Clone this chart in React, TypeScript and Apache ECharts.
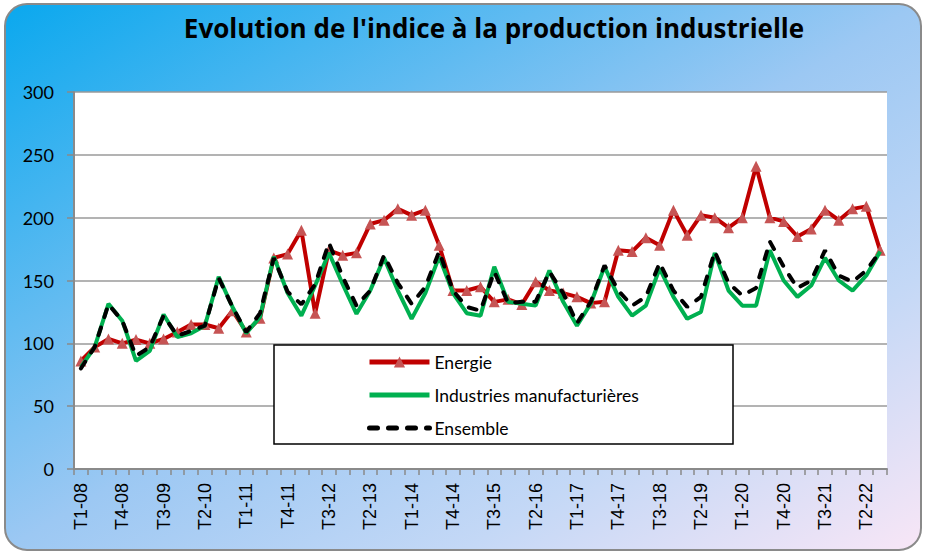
import React, { useEffect, useRef } from "react";
import * as echarts from "echarts";

const categories = [
  "T1-08","T2-08","T3-08","T4-08","T1-09","T2-09","T3-09","T4-09",
  "T1-10","T2-10","T3-10","T4-10","T1-11","T2-11","T3-11","T4-11",
  "T1-12","T2-12","T3-12","T4-12","T1-13","T2-13","T3-13","T4-13",
  "T1-14","T2-14","T3-14","T4-14","T1-15","T2-15","T3-15","T4-15",
  "T1-16","T2-16","T3-16","T4-16","T1-17","T2-17","T3-17","T4-17",
  "T1-18","T2-18","T3-18","T4-18","T1-19","T2-19","T3-19","T4-19",
  "T1-20","T2-20","T3-20","T4-20","T1-21","T2-21","T3-21","T4-21",
  "T1-22","T2-22","T3-22",
];

const energie = [
  86, 97, 103.5, 100, 103, 100, 103.5, 109,
  115, 115, 112, 126, 109, 120, 168, 171,
  190, 124, 174, 170, 172, 195, 198, 207,
  202, 206, 178, 142, 142, 145, 133, 135,
  131, 149, 142, 140, 137, 132, 133, 174,
  173, 184, 178, 206, 186, 202, 200, 192,
  200, 241, 200, 197, 185, 191, 206, 198,
  207, 209, 174,
];

const industries = [
  81, 97, 131.5, 118, 86, 94, 123, 105,
  108, 114, 153, 129, 108, 121, 169, 140,
  122, 146, 172, 147, 123.5, 142, 168, 142,
  119.5, 140, 169, 140, 124, 122, 161, 133,
  131.5, 130, 158, 133, 114, 131.5, 161, 137,
  122, 130, 159.6, 137, 119.5, 125, 172, 142,
  130, 130, 174, 150, 137, 146, 168, 150,
  142, 154, 173,
];

const ensemble = [
  80, 97, 131, 118, 90, 97, 122, 106,
  110, 114, 152, 129, 109, 124, 168, 141,
  131, 147, 180, 153, 130, 142, 170, 148,
  131.5, 145, 173, 142, 129, 126, 157, 132,
  133, 133, 157, 140, 116, 133, 162, 142,
  130, 137, 164, 142, 129, 137, 173, 148,
  138, 144, 181, 161, 144, 150, 174, 154,
  149, 158, 173,
];

const seriesNames = ["Energie", "Industries manufacturières", "Ensemble"];
const titleText = "Evolution de l'indice à la production industrielle";

export default function App() {
  const ref = useRef<HTMLDivElement>(null);

  useEffect(() => {
    document.body.style.margin = "0";
    if (!ref.current) return;
    const chart = echarts.init(ref.current, null, { renderer: "svg" });

    // background box
    const bx = 5, by = 4, bw = 916, bh = 546;
    const diag = Math.sqrt(bw * bw + bh * bh);
    const dx = bh / diag, dy = bw / diag;
    const L = (bw * bh) / diag;
    const cx = bx + bw / 2, cy = by + bh / 2;
    const bg = new echarts.graphic.LinearGradient(
      cx - dx * L, cy - dy * L, cx + dx * L, cy + dy * L,
      [
        { offset: 0, color: "#0AA8EE" },
        { offset: 0.5, color: "#9CC8F3" },
        { offset: 0.75, color: "#C4D8F6" },
        { offset: 1, color: "#F8E6F6" },
      ],
      true
    );

    const dash = [8, 11];

    chart.setOption({
      animation: false,
      backgroundColor: "#fff",
      title: {
        text: titleText,
        left: 489,
        textAlign: "center",
        top: 10,
        textStyle: {
          fontFamily: "Open Sans",
          fontWeight: "bold",
          fontSize: 26,
          color: "#000",
        },
      },
      graphic: [
        {
          type: "rect",
          z: -10,
          silent: true,
          shape: { x: bx, y: by, width: bw, height: bh, r: 22 },
          style: { fill: bg, stroke: "#8A8A8A", lineWidth: 2 },
        },
        {
          type: "rect",
          z: 10,
          silent: true,
          shape: { x: 274, y: 345, width: 459, height: 99 },
          style: { fill: "#fff", stroke: "#000", lineWidth: 1.5 },
        },
      ],
      grid: {
        left: 74,
        right: 39,
        top: 92,
        bottom: 83,
        show: true,
        backgroundColor: "#fff",
        borderWidth: 0,
      },
      legend: {
        orient: "vertical",
        left: 367,
        top: 353,
        padding: 0,
        z: 20,
        itemWidth: 60,
        itemHeight: 14,
        itemGap: 15,
        data: [
          { name: seriesNames[0], lineStyle: { width: 5, color: "#C00000" } },
          {
            name: seriesNames[1],
            itemStyle: { opacity: 0 },
            lineStyle: { width: 5, color: "#00B050" },
          },
          {
            name: seriesNames[2],
            itemStyle: { opacity: 0 },
            lineStyle: { width: 5, color: "#000", type: dash, cap: "round" },
          },
        ],
        textStyle: { fontFamily: "Lato", fontSize: 17.5, color: "#000" },
      },
      xAxis: {
        type: "category",
        data: categories,
        boundaryGap: true,
        axisLine: { show: true, lineStyle: { color: "#8A8A8A", width: 2 } },
        axisTick: {
          show: true,
          interval: 0,
          length: 6,
          lineStyle: { color: "#8A8A8A", width: 1.5 },
        },
        axisLabel: {
          interval: 2,
          rotate: 90,
          margin: 14,
          fontFamily: "Liberation Sans",
          fontSize: 18,
          color: "#000",
        },
        splitLine: { show: false },
      },
      yAxis: {
        type: "value",
        min: 0,
        max: 300,
        interval: 50,
        axisLine: { show: true, lineStyle: { color: "#8A8A8A", width: 2 } },
        axisTick: { show: true, length: 7, lineStyle: { color: "#8A8A8A", width: 1.5 } },
        axisLabel: {
          margin: 20,
          fontFamily: "Lato",
          fontSize: 18,
          color: "#000",
        },
        splitLine: { show: true, lineStyle: { color: "#9A9A9A", width: 1.5 } },
      },
      series: [
        {
          name: seriesNames[0],
          type: "line",
          data: energie,
          color: "#C00000",
          symbol: "triangle",
          symbolSize: 11,
          showSymbol: true,
          showAllSymbol: true,
          itemStyle: { color: "#C65454", borderWidth: 0 },
          lineStyle: { color: "#C00000", width: 4 },
          z: 2,
        },
        {
          name: seriesNames[1],
          type: "line",
          data: industries,
          color: "#00B050",
          symbol: "none",
          lineStyle: { color: "#00B050", width: 4 },
          z: 3,
        },
        {
          name: seriesNames[2],
          type: "line",
          data: ensemble,
          color: "#000",
          symbol: "none",
          lineStyle: { color: "#000", width: 4, type: dash, cap: "round" },
          z: 4,
        },
      ],
    });

    return () => chart.dispose();
  }, []);

  return <div ref={ref} style={{ width: 926, height: 552 }} />;
}
